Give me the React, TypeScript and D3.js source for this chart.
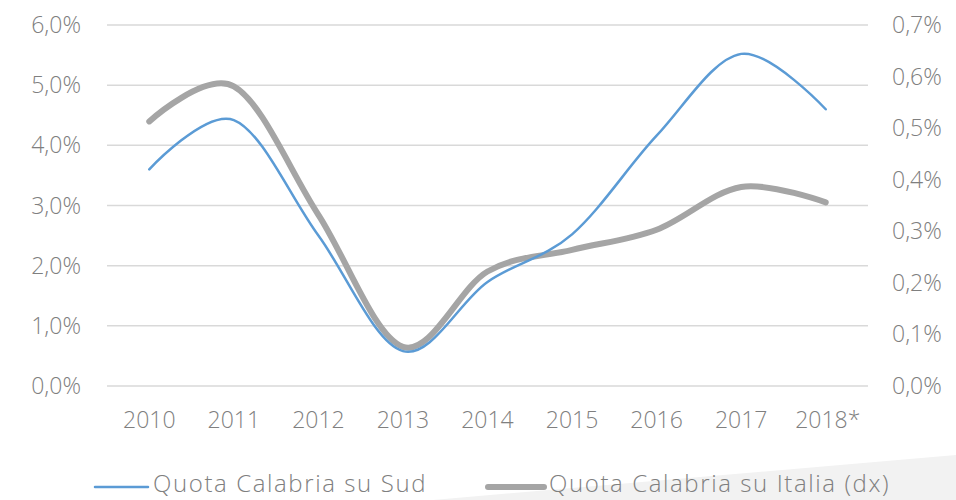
import * as d3 from "d3";
import { useEffect, useRef } from "react";

const years = ["2010", "2011", "2012", "2013", "2014", "2015", "2016", "2017", "2018*"];
const quotaSud = [3.6, 4.42, 2.5, 0.58, 1.73, 2.52, 4.16, 5.52, 4.6];
const quotaItalia = [0.513, 0.581, 0.332, 0.076, 0.222, 0.264, 0.303, 0.386, 0.356];
const leftTicks = [0, 1, 2, 3, 4, 5, 6];
const rightTicks = [0, 0.1, 0.2, 0.3, 0.4, 0.5, 0.6, 0.7];

const width = 956;
const height = 500;
const font = "'Century Gothic', 'Open Sans', Lato, sans-serif";
const textColor = "#7f7f7f";

const fmt = (v: number, d: number) => v.toFixed(d).replace(".", ",") + "%";

export default function App() {
  const ref = useRef<SVGSVGElement>(null);

  useEffect(() => {
    const svg = d3.select(ref.current);
    svg.selectAll("*").remove();

    const x = d3.scalePoint().domain(years).range([107, 868]).padding(0.5);
    const yL = d3.scaleLinear().domain([0, 6]).range([386, 25]);
    const yR = d3.scaleLinear().domain([0, 0.7]).range([386, 25]);

    // light background wedge bottom right
    svg
      .append("polygon")
      .attr("points", `433,500 956,455 956,500`)
      .attr("fill", "#f2f2f2");

    // gridlines
    svg
      .append("g")
      .selectAll("line")
      .data(leftTicks)
      .enter()
      .append("line")
      .attr("x1", 107)
      .attr("x2", 868)
      .attr("y1", (d) => yL(d))
      .attr("y2", (d) => yL(d))
      .attr("stroke", "#d9d9d9")
      .attr("stroke-width", 1.5);

    const label = (sel: any) =>
      sel
        .attr("font-family", font)
        .attr("font-weight", 300)
        .attr("font-size", 23)
        .attr("fill", textColor)
        .attr("dy", "0.35em");

    // left axis labels
    svg
      .append("g")
      .selectAll("text")
      .data(leftTicks)
      .enter()
      .append("text")
      .attr("x", 81)
      .attr("y", (d) => yL(d))
      .attr("text-anchor", "end")
      .call(label)
      .text((d) => fmt(d, 1));

    // right axis labels
    svg
      .append("g")
      .selectAll("text")
      .data(rightTicks)
      .enter()
      .append("text")
      .attr("x", 892)
      .attr("y", (d) => yR(d))
      .call(label)
      .text((d) => fmt(d, 1));

    // x labels
    svg
      .append("g")
      .selectAll("text")
      .data(years)
      .enter()
      .append("text")
      .attr("x", (d) => (x(d) as number) + (d.endsWith("*") ? 2 : 0))
      .attr("y", 420)
      .attr("text-anchor", "middle")
      .call(label)
      .text((d) => d);

    const curve = d3.curveCardinal.tension(0);

    const lineSud = d3
      .line<number>()
      .x((_, i) => x(years[i]) as number)
      .y((d) => yL(d))
      .curve(curve);

    const lineItalia = d3
      .line<number>()
      .x((_, i) => x(years[i]) as number)
      .y((d) => yR(d))
      .curve(curve);

    svg
      .append("path")
      .attr("d", lineItalia(quotaItalia))
      .attr("fill", "none")
      .attr("stroke", "#a5a5a5")
      .attr("stroke-width", 6)
      .attr("stroke-linecap", "round");

    svg
      .append("path")
      .attr("d", lineSud(quotaSud))
      .attr("fill", "none")
      .attr("stroke", "#5b9bd5")
      .attr("stroke-width", 2.5)
      .attr("stroke-linecap", "round");

    // legend
    const legend = [
      { label: "Quota Calabria su Sud", color: "#5b9bd5", w: 2.5, x0: 95, x1: 148 },
      { label: "Quota Calabria su Italia (dx)", color: "#a5a5a5", w: 6, x0: 488, x1: 544 },
    ];
    const lg = svg.append("g");
    legend.forEach((d) => {
      lg.append("line")
        .attr("x1", d.x0)
        .attr("x2", d.x1)
        .attr("y1", 487)
        .attr("y2", 487)
        .attr("stroke", d.color)
        .attr("stroke-width", d.w)
        .attr("stroke-linecap", "round");
      lg.append("text")
        .attr("x", d.x1 + 5)
        .attr("y", 484)
        .call(label)
        .attr("font-size", 24)
        .attr("letter-spacing", 1.6)
        .text(d.label);
    });
  }, []);

  return (
    <div style={{ position: "absolute", left: 0, top: 0 }}>
      <svg ref={ref} width={width} height={height} style={{ display: "block", background: "#fff" }} />
    </div>
  );
}
